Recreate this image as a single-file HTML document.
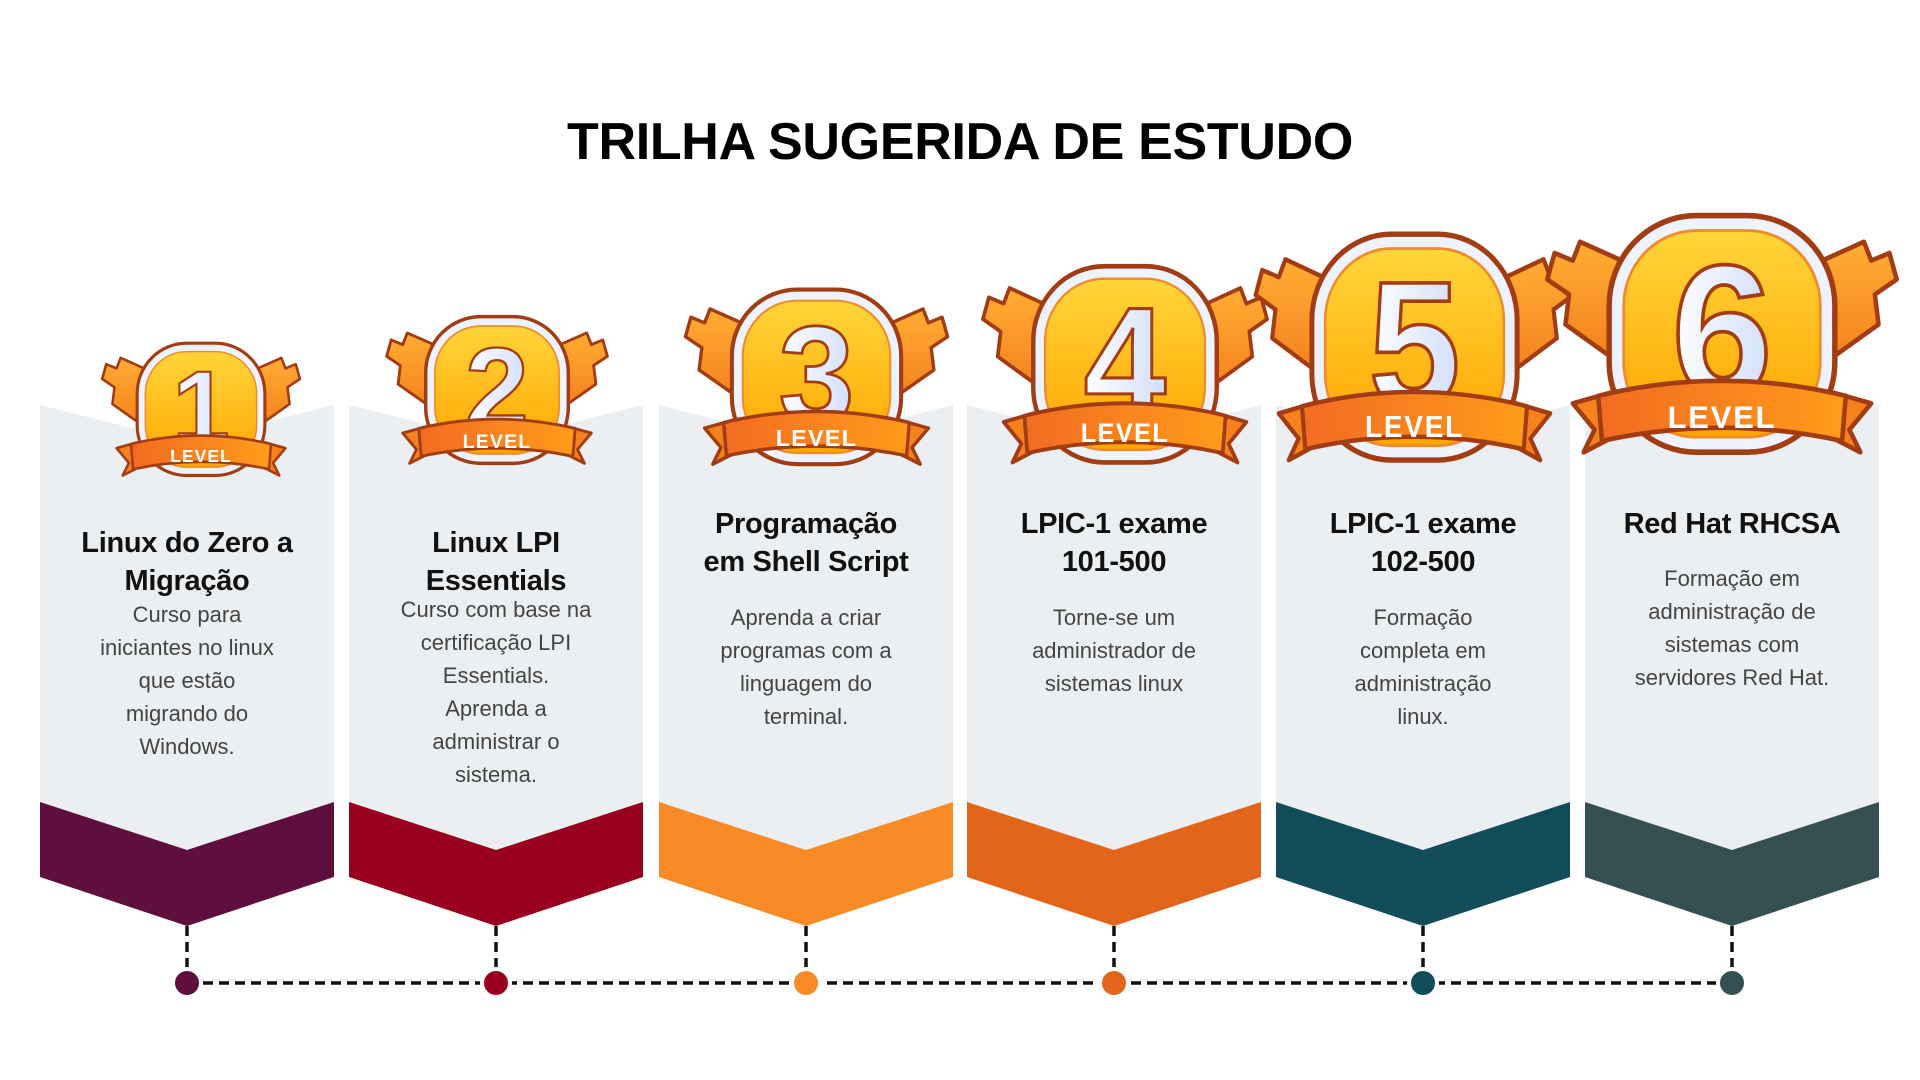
<!DOCTYPE html>
<html><head><meta charset="utf-8"><style>
html,body{margin:0;padding:0;background:#fff;}
body{width:1920px;height:1080px;position:relative;overflow:hidden;font-family:"Liberation Sans",sans-serif;}
.title{position:absolute;left:0;width:1920px;top:112px;text-align:center;font-weight:bold;font-size:52px;color:#000;letter-spacing:-0.3px;}
.t{position:absolute;text-align:center;font-weight:bold;font-size:29px;color:#111;line-height:38px;width:294px;letter-spacing:-0.3px;}
.b{position:absolute;text-align:center;font-size:22px;color:#444;line-height:33px;width:294px;}
svg{position:absolute;}
</style></head><body>
<svg width="1920" height="1080" style="left:0;top:0">
<defs>
<linearGradient id="gold" x1="0" y1="0" x2="0" y2="1"><stop offset="0" stop-color="#ffd53a"/><stop offset="1" stop-color="#ffa500"/></linearGradient>
<linearGradient id="wing" x1="0" y1="0" x2="0" y2="1"><stop offset="0" stop-color="#ffad33"/><stop offset="1" stop-color="#f5821f"/></linearGradient>
<linearGradient id="rib" x1="0" y1="0" x2="1" y2="0"><stop offset="0" stop-color="#f26b22"/><stop offset="1" stop-color="#ff9c1a"/></linearGradient>
<linearGradient id="num" x1="0" y1="0" x2="1" y2="0"><stop offset="0" stop-color="#ffffff"/><stop offset="1" stop-color="#d2defa"/></linearGradient>
<g id="badge">
 <path d="M45 28 L22 18 L18 28 L8 24 L4 38 L16 46 L14 62 L40 80 L48 60 Z" fill="url(#wing)" stroke="#a23c12" stroke-width="2.5" stroke-linejoin="round"/>
 <path d="M155 28 L178 18 L182 28 L192 24 L196 38 L184 46 L186 62 L160 80 L152 60 Z" fill="url(#wing)" stroke="#a23c12" stroke-width="2.5" stroke-linejoin="round"/>
 <rect x="38" y="4" width="124" height="126" rx="48" fill="#eef3ff" stroke="#a23c12" stroke-width="3"/>
 <rect x="46" y="12" width="108" height="110" rx="40" fill="url(#gold)" stroke="#f08a2a" stroke-width="1.5"/>
</g>
<g id="ribbon">
 <path d="M18 104 L40 98 L40 122 L24 130 L30 118 Z" fill="#f5821f" stroke="#a23c12" stroke-width="2.5" stroke-linejoin="round"/>
 <path d="M182 104 L160 98 L160 122 L176 130 L170 118 Z" fill="#f5821f" stroke="#a23c12" stroke-width="2.5" stroke-linejoin="round"/>
 <path d="M32 100 Q100 84 168 100 L166 124 Q100 110 34 124 Z" fill="url(#rib)" stroke="#a23c12" stroke-width="2.5" stroke-linejoin="round"/>
</g>
</defs>
<g fill="#eceff1">
 <polygon points="40,405 187,442 334,405 334,813 187,869 40,813"/>
 <polygon points="349,405 496,442 643,405 643,813 496,869 349,813"/>
 <polygon points="659,405 806,442 953,405 953,813 806,869 659,813"/>
 <polygon points="967,405 1114,442 1261,405 1261,813 1114,869 967,813"/>
 <polygon points="1276,405 1423,442 1570,405 1570,813 1423,869 1276,813"/>
 <polygon points="1585,405 1732,442 1879,405 1879,813 1732,869 1585,813"/>
</g>
<polygon points="40,802 187,850 334,802 334,877 187,926 40,877" fill="#5e0f3e"/>
<polygon points="349,802 496,850 643,802 643,877 496,926 349,877" fill="#99001f"/>
<polygon points="659,802 806,850 953,802 953,877 806,926 659,877" fill="#f98b27"/>
<polygon points="967,802 1114,850 1261,802 1261,877 1114,926 967,877" fill="#e2651a"/>
<polygon points="1276,802 1423,850 1570,802 1570,877 1423,926 1276,877" fill="#114c5b"/>
<polygon points="1585,802 1732,850 1879,802 1879,877 1732,926 1585,877" fill="#365052"/>
<g stroke="#111" stroke-width="3.5" stroke-dasharray="10,6" fill="none">
 <line x1="187" y1="926" x2="187" y2="983"/><line x1="496" y1="926" x2="496" y2="983"/>
 <line x1="806" y1="926" x2="806" y2="983"/><line x1="1114" y1="926" x2="1114" y2="983"/>
 <line x1="1423" y1="926" x2="1423" y2="983"/><line x1="1732" y1="926" x2="1732" y2="983"/>
 <line x1="187" y1="983" x2="1732" y2="983"/>
</g>
<g stroke="#fff" stroke-width="4">
 <circle cx="187" cy="983" r="14" fill="#5e0f3e"/><circle cx="496" cy="983" r="14" fill="#99001f"/>
 <circle cx="806" cy="983" r="14" fill="#f98b27"/><circle cx="1114" cy="983" r="14" fill="#e2651a"/>
 <circle cx="1423" cy="983" r="14" fill="#114c5b"/><circle cx="1732" cy="983" r="14" fill="#365052"/>
</g>
</svg>

<div class="title">TRILHA SUGERIDA DE ESTUDO</div>

<svg style="left:98px;top:339px" width="206" height="147" viewBox="0 0 200 140" preserveAspectRatio="none"><use href="#badge"/><text x="100" y="100" text-anchor="middle" font-family="Liberation Sans" font-weight="bold" font-size="100" fill="url(#num)" stroke="#a23c12" stroke-width="2">1</text><use href="#ribbon"/><text x="100" y="117" text-anchor="middle" font-family="Liberation Sans" font-weight="bold" font-size="17" fill="#fff" letter-spacing="1">LEVEL</text></svg>
<svg style="left:382px;top:312px" width="230" height="163" viewBox="0 0 200 140" preserveAspectRatio="none"><use href="#badge"/><text x="100" y="100" text-anchor="middle" font-family="Liberation Sans" font-weight="bold" font-size="100" fill="url(#num)" stroke="#a23c12" stroke-width="2">2</text><use href="#ribbon"/><text x="100" y="117" text-anchor="middle" font-family="Liberation Sans" font-weight="bold" font-size="17" fill="#fff" letter-spacing="1">LEVEL</text></svg>
<svg style="left:680px;top:284px" width="273" height="194" viewBox="0 0 200 140" preserveAspectRatio="none"><use href="#badge"/><text x="100" y="100" text-anchor="middle" font-family="Liberation Sans" font-weight="bold" font-size="100" fill="url(#num)" stroke="#a23c12" stroke-width="2">3</text><use href="#ribbon"/><text x="100" y="117" text-anchor="middle" font-family="Liberation Sans" font-weight="bold" font-size="17" fill="#fff" letter-spacing="1">LEVEL</text></svg>
<svg style="left:977px;top:260px" width="296" height="218" viewBox="0 0 200 140" preserveAspectRatio="none"><use href="#badge"/><text x="100" y="100" text-anchor="middle" font-family="Liberation Sans" font-weight="bold" font-size="100" fill="url(#num)" stroke="#a23c12" stroke-width="2">4</text><use href="#ribbon"/><text x="100" y="117" text-anchor="middle" font-family="Liberation Sans" font-weight="bold" font-size="17" fill="#fff" letter-spacing="1">LEVEL</text></svg>
<svg style="left:1249px;top:227px" width="331" height="251" viewBox="0 0 200 140" preserveAspectRatio="none"><use href="#badge"/><text x="100" y="100" text-anchor="middle" font-family="Liberation Sans" font-weight="bold" font-size="100" fill="url(#num)" stroke="#a23c12" stroke-width="2">5</text><use href="#ribbon"/><text x="100" y="117" text-anchor="middle" font-family="Liberation Sans" font-weight="bold" font-size="17" fill="#fff" letter-spacing="1">LEVEL</text></svg>
<svg style="left:1540px;top:208px" width="364" height="263" viewBox="0 0 200 140" preserveAspectRatio="none"><use href="#badge"/><text x="100" y="100" text-anchor="middle" font-family="Liberation Sans" font-weight="bold" font-size="100" fill="url(#num)" stroke="#a23c12" stroke-width="2">6</text><use href="#ribbon"/><text x="100" y="117" text-anchor="middle" font-family="Liberation Sans" font-weight="bold" font-size="17" fill="#fff" letter-spacing="1">LEVEL</text></svg>

<div class="t" style="left:40px;top:524px">Linux do Zero a<br>Migração</div>
<div class="b" style="left:40px;top:598px">Curso para<br>iniciantes no linux<br>que estão<br>migrando do<br>Windows.</div>

<div class="t" style="left:349px;top:524px">Linux LPI<br>Essentials</div>
<div class="b" style="left:349px;top:593px">Curso com base na<br>certificação LPI<br>Essentials.<br>Aprenda a<br>administrar o<br>sistema.</div>

<div class="t" style="left:659px;top:505px">Programação<br>em Shell Script</div>
<div class="b" style="left:659px;top:601px">Aprenda a criar<br>programas com a<br>linguagem do<br>terminal.</div>

<div class="t" style="left:967px;top:505px">LPIC-1 exame<br>101-500</div>
<div class="b" style="left:967px;top:601px">Torne-se um<br>administrador de<br>sistemas linux</div>

<div class="t" style="left:1276px;top:505px">LPIC-1 exame<br>102-500</div>
<div class="b" style="left:1276px;top:601px">Formação<br>completa em<br>administração<br>linux.</div>

<div class="t" style="left:1585px;top:505px">Red Hat RHCSA</div>
<div class="b" style="left:1585px;top:562px">Formação em<br>administração de<br>sistemas com<br>servidores Red Hat.</div>
</body></html>
